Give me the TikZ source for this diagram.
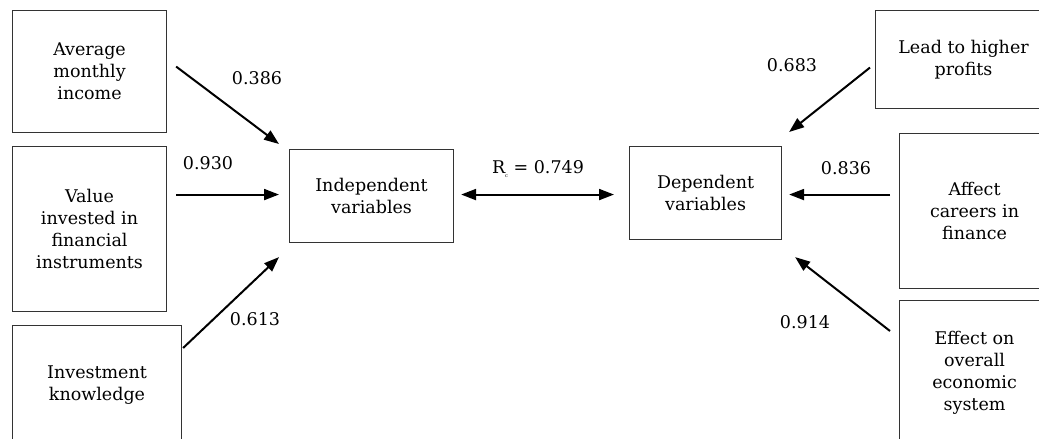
\documentclass[tikz,border=0pt]{standalone}
\usepackage{fontspec}
\setmainfont{DejaVu Serif}
\usetikzlibrary{arrows.meta,calc}
\begin{document}
\begin{tikzpicture}[x=1pt,y=-1pt,
  box/.style={draw=black!80,line width=1.1pt,anchor=north west,align=center,inner sep=0pt,
    font=\fontsize{17.5}{22}\selectfont,text=black},
  conn/.style={line width=2pt,-{Triangle[length=15pt,width=11pt]}},
  bothconn/.style={line width=2pt,{Triangle[length=15pt,width=11pt]}-{Triangle[length=15pt,width=11pt]}},
  lbl/.style={font=\fontsize{17.5}{20}\selectfont,text=black,inner sep=0pt}]
\useasboundingbox (0,0) rectangle (1039,439);
\fill[white] (0,0) rectangle (1039,439);
\clip (0,0) rectangle (1039,439);
% left boxes
\node[box,minimum width=154,minimum height=122] (A) at (12,10) {Average\\monthly\\income};
\node[box,minimum width=154,minimum height=165] (V) at (12,146) {Value\\invested in\\financial\\instruments};
\node[box,minimum width=169,minimum height=120] (K) at (12,325) {Investment\\knowledge};
% centre boxes
\node[box,minimum width=164,minimum height=93] (Ind) at (289,149) {Independent\\variables};
\node[box,minimum width=152,minimum height=93] (Dep) at (629,146) {Dependent\\variables};
% right boxes
\node[box,minimum width=176,minimum height=98] (L) at (875,10) {Lead to higher\\profits};
\node[box,minimum width=150,minimum height=155] (F) at (899,133) {Affect\\careers in\\finance};
\node[box,minimum width=150,minimum height=144] (E) at (899,300) {Effect on\\overall\\economic\\system};
% connector end points
\coordinate (a1) at ($(A.east)+(9,-5)$);
\coordinate (a2) at ($(Ind.north west)+(-10,-5)$);
\coordinate (v1) at ($(V.east)+(9,-34.5)$);
\coordinate (v2) at ($(Ind.west)+(-10,-1.5)$);
\coordinate (k1) at ($(K.north east)+(1,23)$);
\coordinate (k2) at ($(Ind.south west)+(-10,14)$);
\coordinate (d1) at ($(Ind.east)+(7,-1.5)$);
\coordinate (d2) at ($(Dep.west)+(-15,1.5)$);
\coordinate (l1) at ($(L.west)+(-5,8)$);
\coordinate (l2) at ($(Dep.north east)+(7,-14)$);
\coordinate (f1) at ($(F.west)+(-9,-16.5)$);
\coordinate (f2) at ($(Dep.east)+(7,1.5)$);
\coordinate (e1) at ($(E.north west)+(-9,31)$);
\coordinate (e2) at ($(Dep.south east)+(13,17)$);
\draw[conn] (a1) -- (a2);
\draw[conn] (v1) -- (v2);
\draw[conn] (k1) -- (k2);
\draw[bothconn] (d1) -- (d2);
\draw[conn] (l1) -- (l2);
\draw[conn] (f1) -- (f2);
\draw[conn] (e1) -- (e2);
% labels
\node[lbl] (la) at (257,78) {0.386};
\node[lbl] (lv) at (208,163) {0.930};
\node[lbl] (lk) at (255,319) {0.613};
\node[lbl] (ld) at (538,169) {R\raisebox{-4pt}{\fontsize{5}{5}\selectfont c} = 0.749};
\node[lbl] (ll) at (792,65) {0.683};
\node[lbl] (lf) at (846,168) {0.836};
\node[lbl] (le) at (805,322) {0.914};
\end{tikzpicture}
\end{document}
